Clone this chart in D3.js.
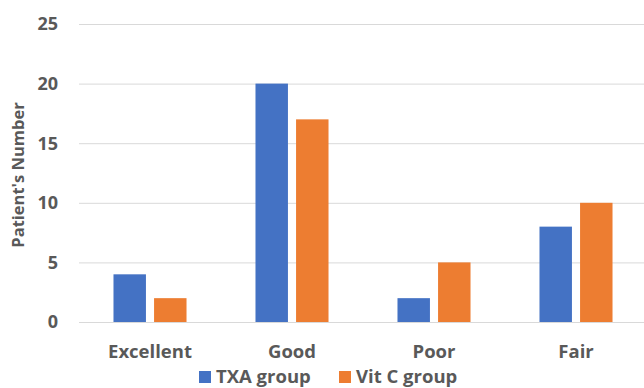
<!DOCTYPE html>
<html lang="en">
<head>
    <meta charset="UTF-8">
    <title>Patient's Number by Outcome</title>
    <script src="https://d3js.org/d3.v7.min.js"></script>
    <style>
        body { margin: 0; background: #fff; }
        text { font-family: "Open Sans", sans-serif; font-weight: bold; fill: #595959; }
        .grid line { stroke: #d9d9d9; stroke-width: 1px; }
    </style>
</head>
<body>
    <svg width="644" height="388"></svg>

    <script>
        // data
        const categories = ["Excellent", "Good", "Poor", "Fair"];
        const seriesNames = ["TXA group", "Vit C group"];
        const txaValues = [4, 20, 2, 8];
        const vitCValues = [2, 17, 5, 10];
        const yTicks = [0, 5, 10, 15, 20, 25];
        const colors = ["#4472c4", "#ed7d31"];

        const width = 644, height = 388;
        const margin = { top: 24, right: -3, bottom: 66, left: 79 };

        const svg = d3.select("svg");

        const x = d3.scaleBand()
            .domain(categories)
            .range([margin.left, width - margin.right]);

        const xInner = d3.scaleBand()
            .domain(seriesNames)
            .range([0, x.bandwidth()])
            .paddingInner(0.2)
            .paddingOuter(0.85);

        const y = d3.scaleLinear()
            .domain([0, 25])
            .range([height - margin.bottom, margin.top]);

        // gridlines
        svg.append("g")
            .attr("class", "grid")
            .selectAll("line")
            .data(yTicks)
            .join("line")
            .attr("x1", margin.left)
            .attr("x2", width)
            .attr("y1", d => y(d) + 0.5)
            .attr("y2", d => y(d) + 0.5);

        // y tick labels
        svg.append("g")
            .selectAll("text")
            .data(yTicks)
            .join("text")
            .attr("x", 58)
            .attr("y", d => y(d))
            .attr("dy", "0.35em")
            .attr("text-anchor", "end")
            .style("font-size", "18px")
            .text(d => d);

        // y axis title
        svg.append("text")
            .attr("transform", `translate(24,${(y(0) + y(25)) / 2 + 2}) rotate(-90)`)
            .attr("text-anchor", "middle")
            .style("font-size", "16.5px")
            .text("Patient's Number");

        // bars
        const rows = categories.map((c, i) => ({ cat: c, vals: [txaValues[i], vitCValues[i]] }));

        const groups = svg.append("g")
            .selectAll("g")
            .data(rows)
            .join("g")
            .attr("transform", d => `translate(${x(d.cat)},0)`);

        groups.selectAll("rect")
            .data(d => d.vals.map((v, j) => ({ name: seriesNames[j], v: v, j: j })))
            .join("rect")
            .attr("x", d => xInner(d.name))
            .attr("width", xInner.bandwidth())
            .attr("y", d => y(d.v))
            .attr("height", d => y(0) - y(d.v))
            .attr("fill", d => colors[d.j]);

        // x labels
        svg.append("g")
            .selectAll("text")
            .data(categories)
            .join("text")
            .attr("x", d => x(d) + x.bandwidth() / 2)
            .attr("y", 352)
            .attr("dy", "0.35em")
            .attr("text-anchor", "middle")
            .style("font-size", "18.5px")
            .text(d => d);

        // legend
        const legendX = [199, 339];
        const legend = svg.append("g")
            .selectAll("g")
            .data(seriesNames)
            .join("g")
            .attr("transform", (d, i) => `translate(${legendX[i]},377)`);

        legend.append("rect")
            .attr("x", 0)
            .attr("y", -6)
            .attr("width", 12)
            .attr("height", 12)
            .attr("fill", (d, i) => colors[i]);

        legend.append("text")
            .attr("x", 17)
            .attr("dy", "0.35em")
            .style("font-size", "18.5px")
            .text(d => d);
    </script>
</body>
</html>
